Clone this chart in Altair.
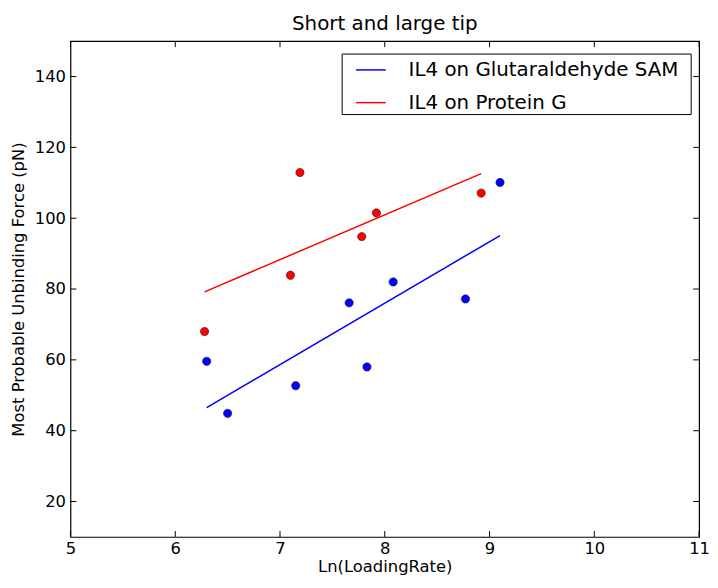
import altair as alt
import pandas as pd

# ---- data ----
sam_x = [6.30, 6.50, 7.15, 7.66, 7.83, 8.08, 8.77, 9.10]
sam_y = [59.6, 44.9, 52.7, 76.1, 58.0, 82.0, 77.2, 110.1]
pg_x = [6.28, 7.10, 7.19, 7.78, 7.92, 8.92]
pg_y = [68.0, 83.9, 112.9, 94.8, 101.5, 107.1]

# fitted lines (end points)
sam_fit_x = [6.30, 9.10]
sam_fit_y = [46.5, 95.1]
pg_fit_x = [6.28, 8.92]
pg_fit_y = [79.2, 112.6]

series_names = ["IL4 on Glutaraldehyde SAM", "IL4 on Protein G"]
series_colors = ["#0000ff", "#ff0000"]

x_ticks = [5, 6, 7, 8, 9, 10, 11]
y_ticks = [20, 40, 60, 80, 100, 120, 140]

FONT = "DejaVu Sans"
W, H = 634, 500

pts = pd.DataFrame({
    "x": sam_x + pg_x,
    "y": sam_y + pg_y,
    "grp": [series_names[0]] * len(sam_x) + [series_names[1]] * len(pg_x),
})
fits = pd.DataFrame({
    "x": sam_fit_x + pg_fit_x,
    "y": sam_fit_y + pg_fit_y,
    "series": [series_names[0]] * 2 + [series_names[1]] * 2,
})
xt = pd.DataFrame({"v": x_ticks})
yt = pd.DataFrame({"v": y_ticks})

xscale = alt.Scale(domain=[5, 11], nice=False, zero=False)
yscale = alt.Scale(domain=[10, 150], nice=False, zero=False)
cscale = alt.Scale(domain=series_names, range=series_colors)

xaxis = alt.Axis(values=x_ticks, format="d", tickSize=0, labelPadding=4, grid=False, domain=False,
                 labelFontSize=16.5, titleFontSize=16.5, titleFontWeight="normal",
                 labelFont=FONT, titleFont=FONT, labelColor="black", titleColor="black",
                 titlePadding=1, labelFlush=False)
yaxis = alt.Axis(values=y_ticks, format="d", tickSize=0, labelPadding=5, grid=False, domain=False,
                 labelFontSize=16.5, titleFontSize=16.5, titleFontWeight="normal",
                 labelFont=FONT, titleFont=FONT, labelColor="black", titleColor="black",
                 titlePadding=8)

lines = alt.Chart(fits).mark_line(strokeWidth=1.5).encode(
    x=alt.X("x:Q", scale=xscale, axis=xaxis, title="Ln(LoadingRate)"),
    y=alt.Y("y:Q", scale=yscale, axis=yaxis, title="Most Probable Unbinding Force (pN)"),
    color=alt.Color("series:N", scale=cscale, legend=None),
    detail="series:N",
)

points = alt.Chart(pts).mark_circle(size=70, opacity=1, stroke="#222222", strokeWidth=0.6).encode(
    x=alt.X("x:Q", scale=xscale),
    y=alt.Y("y:Q", scale=yscale),
    fill=alt.Fill("grp:N", scale=cscale, legend=None),
)

TL = 6
xt_bottom = alt.Chart(xt).mark_rule(color="black", strokeWidth=1).encode(
    x=alt.X("v:Q", scale=xscale), y=alt.value(H), y2=alt.value(H - TL))
xt_top = alt.Chart(xt).mark_rule(color="black", strokeWidth=1).encode(
    x=alt.X("v:Q", scale=xscale), y=alt.value(0), y2=alt.value(TL))
yt_left = alt.Chart(yt).mark_rule(color="black", strokeWidth=1).encode(
    y=alt.Y("v:Q", scale=yscale), x=alt.value(0), x2=alt.value(TL))
yt_right = alt.Chart(yt).mark_rule(color="black", strokeWidth=1).encode(
    y=alt.Y("v:Q", scale=yscale), x=alt.value(W), x2=alt.value(W - TL))

# ---- legend box (drawn in pixel space of the plot area) ----
one = pd.DataFrame({"k": [0]})
LX0, LX1, LY0, LY1 = 274, 626, 13, 74
ROW_Y = [29, 62]
legend_box = alt.Chart(one).mark_rect(fill="white", stroke="black", strokeWidth=1).encode(
    x=alt.value(LX0), x2=alt.value(LX1), y=alt.value(LY0), y2=alt.value(LY1))
legend_layers = [legend_box]
for i, name in enumerate(series_names):
    legend_layers.append(
        alt.Chart(one).mark_rule(color=series_colors[i], strokeWidth=1.5).encode(
            x=alt.value(288), x2=alt.value(318), y=alt.value(ROW_Y[i])))
    legend_layers.append(
        alt.Chart(one).mark_text(text=name, align="left", baseline="middle", font=FONT,
                                 fontSize=20, color="black").encode(
            x=alt.value(341), y=alt.value(ROW_Y[i])))

chart = alt.layer(points, lines, xt_bottom, xt_top, yt_left, yt_right, *legend_layers).properties(
    width=W, height=H,
    title=alt.TitleParams("Short and large tip", font=FONT, fontSize=20,
                          fontWeight="normal", color="black", anchor="middle",
                          frame="group", offset=7),
    autosize=alt.AutoSizeParams(type="none"),
    padding={"left": 63, "top": 31, "right": 11, "bottom": 41},
).configure(background="white").configure_view(stroke="black", strokeWidth=1.2)

chart.save("out.html", embed_options={"renderer": "svg", "actions": False})
